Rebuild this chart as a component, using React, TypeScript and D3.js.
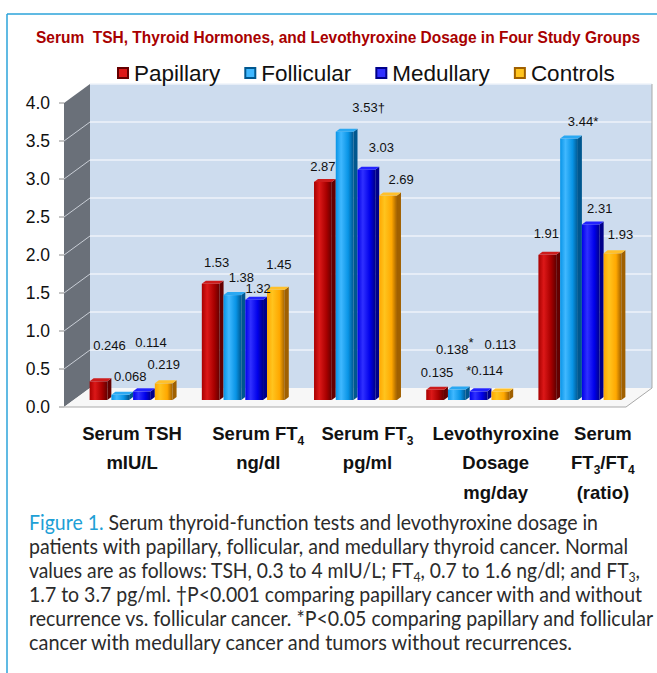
import React, { useEffect, useRef } from "react";
import * as d3 from "d3";

// data
const groups = ["tsh", "ft4", "ft3", "levo", "ratio"];
const seriesNames = ["Papillary", "Follicular", "Medullary", "Controls"];
const papillary = [0.246, 1.53, 2.87, 0.135, 1.91];
const follicular = [0.068, 1.38, 3.53, 0.138, 3.44];
const medullary = [0.114, 1.32, 3.03, 0.114, 2.31];
const controls = [0.219, 1.45, 2.69, 0.113, 1.93];
const decimals = [3, 2, 2, 3, 2];
const yTicks = [0, 0.5, 1, 1.5, 2, 2.5, 3, 3.5, 4];
const categoryLines = [
  ["Serum TSH", "mIU/L"],
  ["Serum FT_4", "ng/dl"],
  ["Serum FT_3", "pg/ml"],
  ["Levothyroxine", "Dosage", "mg/day"],
  ["Serum", "FT_3/FT_4", "(ratio)"],
];
const markers = [
  { series: 1, group: 2, suffix: "†", sup: false },
  { series: 1, group: 3, suffix: "*", sup: true },
  { series: 2, group: 3, prefix: "*" },
  { series: 1, group: 4, suffix: "*", sup: false },
];
const titleText = "Serum  TSH, Thyroid Hormones, and Levothyroxine Dosage in Four Study Groups";
const captionLead = "Figure 1. ";
const captionLines = [
  "Serum thyroid-function tests and levothyroxine dosage in",
  "patients with papillary, follicular, and medullary thyroid cancer. Normal",
  "values are as follows: TSH, 0.3 to 4 mIU/L; FT_4, 0.7 to 1.6 ng/dl; and FT_3,",
  "1.7 to 3.7 pg/ml. †P<0.001 comparing papillary cancer with and without",
  "recurrence vs. follicular cancer. *P<0.05 comparing papillary and follicular",
  "cancer with medullary cancer and tumors without recurrences.",
];

// styles / layout
const palette = [
  { main: "#a80000", light: "#dc1818", dark: "#640000", top: "#cc1c1c" },
  { main: "#0894e6", light: "#40b8ff", dark: "#00578f", top: "#2aa8f2" },
  { main: "#0000ea", light: "#3030ff", dark: "#00008a", top: "#2222ff" },
  { main: "#ffa800", light: "#ffc41e", dark: "#a06000", top: "#ffc02a" },
];
// label nudges [dx, dy] relative to bar centre / bar top
const labelNudge = [
  [[9, -36], [4, -21], [-2, -16], [0, -17], [-3, -22]],
  [[8, -19], [7, -18], [22, -24], [-4, -40], [12, -17]],
  [[7, -49], [2, -11], [13, -22], [4, -21], [7, -16]],
  [[-2, -19], [1, -25], [11, -16], [-2, -47], [6, -19]],
];
const categoryShift = [-1, 13, 10, 26, 21];
const captionEnds = [598, 628, 640, 642, 653, 572];

const W = 657;
const H = 673;

function richText(sel: any, str: string, subSize: number, subShift: number) {
  const parts = str.split(/_(\d)/);
  let shifted = false;
  parts.forEach((p, i) => {
    if (!p) return;
    const t = sel.append("tspan").text(p);
    if (i % 2 === 1) {
      t.attr("font-size", subSize).attr("dy", subShift);
      shifted = true;
    } else if (shifted) {
      t.attr("dy", -subShift);
      shifted = false;
    }
  });
}

const App = () => {
  const svgRef = useRef<SVGSVGElement>(null);

  useEffect(() => {
    const svg = d3.select(svgRef.current);
    svg.selectAll("*").remove();
    const values = [papillary, follicular, medullary, controls];

    const depthX = 26;
    const depthY = -19;
    const yFront = d3.scaleLinear().domain([0, 4]).range([407, 103]);
    const yBack = (v: number) => yFront(v) + depthY;
    const yBar = d3.scaleLinear().domain([0, 4]).range([400, 96]);
    const frontLeft = 64;
    const backLeft = frontLeft + depthX;
    const backRight = 652;
    const frontRight = backRight - depthX;

    const xMid = d3.scaleBand().domain(groups).range([77, 638]).paddingInner(0.225).paddingOuter(0.1125);
    const xSeries = d3.scaleBand().domain(seriesNames).range([0, xMid.bandwidth()]);

    const font = "'Liberation Sans', Arial, sans-serif";

    // frame
    svg.append("line").attr("x1", 7).attr("y1", 14).attr("x2", W).attr("y2", 14).attr("stroke", "#2ba3da").attr("stroke-width", 1.5);
    svg.append("line").attr("x1", 7).attr("y1", 14).attr("x2", 7).attr("y2", H).attr("stroke", "#2ba3da").attr("stroke-width", 1.5);

    // title
    svg
      .append("text")
      .attr("x", 36)
      .attr("y", 43)
      .attr("textLength", 604)
      .attr("lengthAdjust", "spacingAndGlyphs")
      .attr("font-family", font)
      .attr("font-weight", "bold")
      .attr("font-size", 16)
      .attr("fill", "#a80000")
      .style("white-space", "pre")
      .text(titleText);

    // gradients
    const defs = svg.append("defs");
    palette.forEach((c, i) => {
      const g = defs.append("linearGradient").attr("id", `bar-${i}`).attr("x1", 0).attr("x2", 1).attr("y1", 0).attr("y2", 0);
      g.append("stop").attr("offset", "0%").attr("stop-color", c.main);
      g.append("stop").attr("offset", "30%").attr("stop-color", c.light);
      g.append("stop").attr("offset", "70%").attr("stop-color", c.main);
      g.append("stop").attr("offset", "100%").attr("stop-color", c.dark);
    });

    // back wall
    svg
      .append("rect")
      .attr("x", backLeft)
      .attr("y", yBack(4))
      .attr("width", backRight - backLeft)
      .attr("height", yBack(0) - yBack(4))
      .attr("fill", "#cddcee");
    yTicks.slice(1).forEach((t) => {
      svg.append("line").attr("x1", backLeft).attr("x2", backRight).attr("y1", yBack(t)).attr("y2", yBack(t)).attr("stroke", "#eef3fa").attr("stroke-width", 1.6);
    });

    // side wall
    svg
      .append("polygon")
      .attr("points", [
        [frontLeft, yFront(4)],
        [backLeft, yBack(4)],
        [backLeft, yBack(0)],
        [frontLeft, yFront(0)],
      ].map((p) => p.join(",")).join(" "))
      .attr("fill", "#6a7079");
    yTicks.slice(1, -1).forEach((t) => {
      svg.append("line").attr("x1", frontLeft).attr("x2", backLeft).attr("y1", yFront(t)).attr("y2", yBack(t)).attr("stroke", "#c9ced6").attr("stroke-width", 1);
    });

    // floor
    svg
      .append("polygon")
      .attr("points", [
        [frontLeft, yFront(0)],
        [backLeft, yBack(0)],
        [backRight, yBack(0)],
        [frontRight, yFront(0)],
      ].map((p) => p.join(",")).join(" "))
      .attr("fill", "#f7f7f7");
    svg
      .append("polyline")
      .attr("points", `${frontLeft},${yFront(0)} ${frontRight},${yFront(0)} ${backRight},${yBack(0)} ${backRight},${yBack(4)}`)
      .attr("fill", "none")
      .attr("stroke", "#a9a9a9")
      .attr("stroke-width", 1);

    // y axis
    yTicks.forEach((t) => {
      svg.append("line").attr("x1", frontLeft - 5).attr("x2", frontLeft).attr("y1", yFront(t)).attr("y2", yFront(t)).attr("stroke", "#8a8a8a");
      svg
        .append("text")
        .attr("x", 50)
        .attr("y", yFront(t))
        .attr("dy", "0.36em")
        .attr("text-anchor", "end")
        .attr("font-family", font)
        .attr("font-size", 17.5)
        .attr("fill", "#111")
        .text(t.toFixed(1));
    });

    // bars
    const d = 4;
    const dy = -3;
    groups.forEach((g, gi) => {
      seriesNames.forEach((s, si) => {
        const v = values[si][gi];
        const x = (xMid(g) as number) + (xSeries(s) as number);
        const w = xSeries.bandwidth();
        const top = yBar(v);
        const base = yBar(0);
        const c = palette[si];
        const bar = svg.append("g");
        bar
          .append("polygon")
          .attr("points", `${x + w - d},${top} ${x + w},${top + dy} ${x + w},${base + dy} ${x + w - d},${base}`)
          .attr("fill", c.dark);
        bar
          .append("rect")
          .attr("x", x)
          .attr("y", top)
          .attr("width", w - d)
          .attr("height", base - top)
          .attr("fill", `url(#bar-${si})`);
        bar
          .append("polygon")
          .attr("points", `${x},${top} ${x + d},${top + dy} ${x + w},${top + dy} ${x + w - d},${top}`)
          .attr("fill", c.top);
      });
    });

    // data labels
    groups.forEach((g, gi) => {
      seriesNames.forEach((s, si) => {
        const v = values[si][gi];
        const cx = (xMid(g) as number) + (xSeries(s) as number) + xSeries.bandwidth() / 2;
        const [nx, ny] = labelNudge[si][gi];
        const t = svg
          .append("text")
          .attr("x", cx + nx)
          .attr("y", yBar(v) + ny)
          .attr("dy", "0.36em")
          .attr("text-anchor", "middle")
          .attr("font-family", font)
          .attr("font-size", 13)
          .attr("fill", "#111");
        const m: any = markers.find((k) => k.series === si && k.group === gi);
        if (m && m.prefix) t.append("tspan").text(m.prefix);
        t.append("tspan").text(v.toFixed(decimals[gi]));
        if (m && m.suffix) {
          const sp = t.append("tspan").text(m.suffix);
          if (m.sup) sp.attr("dy", -7);
        }
      });
    });

    // category labels
    groups.forEach((g, gi) => {
      const cx = (xMid(g) as number) + xMid.bandwidth() / 2 + categoryShift[gi];
      categoryLines[gi].forEach((line, li) => {
        const t = svg
          .append("text")
          .attr("x", cx)
          .attr("y", 433 + li * 29.5)
          .attr("dy", "0.36em")
          .attr("text-anchor", "middle")
          .attr("font-family", font)
          .attr("font-weight", "bold")
          .attr("font-size", 18.5)
          .attr("fill", "#111");
        richText(t, line, 12, 5);
      });
    });

    // legend
    let lx = 117;
    seriesNames.forEach((s, si) => {
      const c = palette[si];
      svg.append("rect").attr("x", lx).attr("y", 67).attr("width", 12).attr("height", 12).attr("fill", c.dark);
      svg.append("rect").attr("x", lx + 2).attr("y", 69).attr("width", 8).attr("height", 8).attr("fill", c.light);
      const t = svg
        .append("text")
        .attr("x", lx + 17)
        .attr("y", 81)
        .attr("font-family", font)
        .attr("font-size", 22.5)
        .attr("fill", "#111")
        .text(s);
      const tw = (t.node() as SVGTextElement).getComputedTextLength();
      lx += 17 + tw + 24;
    });

    // caption
    const capFont = "Lato, 'Open Sans', sans-serif";
    captionLines.forEach((line, li) => {
      const t = svg
        .append("text")
        .attr("x", 29)
        .attr("y", 530 + li * 24)
        .attr("textLength", captionEnds[li] - 29)
        .attr("lengthAdjust", "spacingAndGlyphs")
        .attr("font-family", capFont)
        .attr("font-size", 20.5)
        .attr("fill", "#2b2b2b");
      if (li === 0) t.append("tspan").attr("fill", "#1ea0d6").text(captionLead);
      richText(t, line, 13, 4);
    });
  }, []);

  return <svg ref={svgRef} width={W} height={H} style={{ position: "absolute", left: 0, top: 0, background: "#fff" }}></svg>;
};

export default App;
